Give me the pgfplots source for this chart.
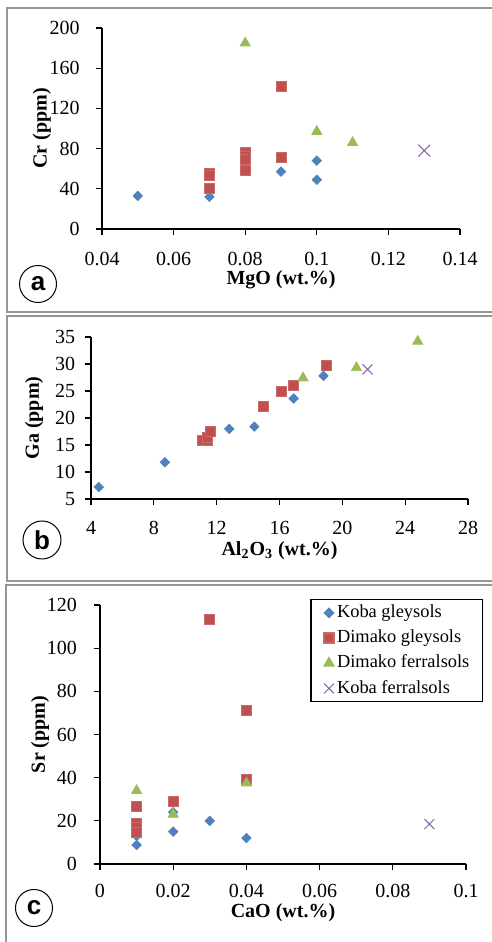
\documentclass[border=0pt]{standalone}
\usepackage{pgfplots}
\pgfplotsset{compat=1.18}
\usepackage{fontspec}
\setmainfont{Liberation Serif}
\newfontfamily\lblfont{Liberation Sans}
\definecolor{kg}{HTML}{4F81BD}
\definecolor{dg}{HTML}{C0504D}
\definecolor{df}{HTML}{9BBB59}
\definecolor{kf}{HTML}{8064A2}
\definecolor{frame}{RGB}{150,150,150}
\pgfplotsset{
  base/.style={
    scale only axis, enlargelimits=false, clip=false,
    axis lines=left, axis line style={-, black, line width=0.6pt},
    tick style={black, line width=0.6pt}, tick align=outside, tick pos=left,
    major tick length=3pt,
    /pgf/number format/assume math mode=true,
    tick label style={font=\fontsize{10}{12}\selectfont},
    label style={font=\fontsize{10}{12}\selectfont\bfseries},
    scaled ticks=false,
  },
  kgs/.style={only marks, mark=square*, mark size=1.65pt, mark options={rotate=45, fill=kg, draw=kg}},
  dgs/.style={only marks, mark=square*, mark size=2.5pt, mark options={fill=dg, draw=dg!85!white}},
  dfs/.style={only marks, mark=triangle*, mark size=2.9pt, mark options={fill=df, draw=df}},
  kfs/.style={only marks, mark=x, mark size=4.2pt, mark options={draw=kf, line width=0.5pt}},
}
\begin{document}
\begin{tikzpicture}
\useasboundingbox (0,0) rectangle (246pt,471pt);
% panel frames
\draw[frame, line width=0.8pt] (250pt,467pt) -- (3.5pt,467pt) -- (3.5pt,315pt) -- (250pt,315pt);
\draw[frame, line width=0.8pt] (250pt,313pt) -- (3.5pt,313pt) -- (3.5pt,180.5pt) -- (250pt,180.5pt);
\draw[frame, line width=0.8pt] (250pt,178.5pt) -- (3pt,178.5pt) -- (3pt,-5pt);
% panel letters
\node[draw, circle, minimum size=18.5pt, inner sep=0pt, line width=0.5pt, font=\lblfont\bfseries\fontsize{13}{14}\selectfont] at (19pt,329pt) {a};
\node[draw, circle, minimum size=19pt, inner sep=0pt, line width=0.5pt, font=\lblfont\bfseries\fontsize{13}{14}\selectfont] at (21pt,201pt) {b};
\node[draw, circle, minimum size=18.5pt, inner sep=0pt, line width=0.5pt, font=\lblfont\bfseries\fontsize{13}{14}\selectfont] at (17pt,17pt) {c};

% ---------- (a) ----------
\begin{axis}[base, at={(51pt,356.5pt)}, anchor=south west,
  width=179pt, height=100.5pt,
  xmin=0.04, xmax=0.14, ymin=0, ymax=200,
  xtick={0.04,0.06,0.08,0.1,0.12,0.14},
  xticklabels={0.04,0.06,0.08,0.1,0.12,0.14},
  ytick={0,40,80,120,160,200},
  xticklabel style={yshift=-4.9pt}, yticklabel style={xshift=-4.6pt},
  xlabel={MgO (wt.\%)}, ylabel={Cr (ppm)},
  xlabel style={at={(axis description cs:0.5,-0.254)}, anchor=center},
  ylabel style={at={(axis description cs:-0.168,0.5)}, anchor=center, rotate=0},
]
\addplot[kgs] coordinates {(0.05,33) (0.07,32) (0.09,57) (0.10,68) (0.10,49)};
\addplot[dgs] coordinates {(0.07,55) (0.07,53) (0.07,40) (0.08,76) (0.08,72) (0.08,69) (0.08,58) (0.09,142) (0.09,71)};
\addplot[dfs] coordinates {(0.08,185) (0.10,97) (0.11,86)};
\addplot[kfs] coordinates {(0.13,78)};
\end{axis}

% ---------- (b) ----------
\begin{axis}[base, at={(45.5pt,221.5pt)}, anchor=south west,
  width=188.5pt, height=81pt,
  xmin=4, xmax=28, ymin=5, ymax=35,
  xtick={4,8,12,16,20,24,28},
  ytick={5,10,15,20,25,30,35},
  xticklabel style={yshift=-4.6pt}, yticklabel style={xshift=-1.4pt},
  xlabel={Al\textsubscript{2}O\textsubscript{3} (wt.\%)}, ylabel={Ga (ppm)},
  xlabel style={at={(axis description cs:0.5,-0.346)}, anchor=base, inner sep=0pt},
  ylabel style={at={(axis description cs:-0.151,0.5)}, anchor=center, rotate=0},
]
\addplot[kgs] coordinates {(4.5,7.2) (8.7,11.8) (12.8,18.0) (14.4,18.4) (16.9,23.6) (18.8,27.8)};
\addplot[dgs] coordinates {(11.1,15.9) (11.4,15.9) (11.4,16.4) (11.6,17.5) (15.0,22.2) (16.1,25.0) (16.9,26.0) (19.0,29.8)};
\addplot[dfs] coordinates {(17.5,27.4) (20.9,29.3) (24.8,34.2)};
\addplot[kfs, mark size=3.5pt] coordinates {(21.6,29.0)};
\end{axis}

% ---------- (c) ----------
\begin{axis}[base, at={(50pt,39pt)}, anchor=south west,
  width=183pt, height=129.5pt,
  xmin=0, xmax=0.1, ymin=0, ymax=120,
  xtick={0,0.02,0.04,0.06,0.08,0.1},
  xticklabels={0,0.02,0.04,0.06,0.08,0.1},
  ytick={0,20,40,60,80,100,120},
  xticklabel style={yshift=-3.8pt}, yticklabel style={xshift=-5pt},
  xlabel={CaO (wt.\%)}, ylabel={Sr (ppm)},
  xlabel style={at={(axis description cs:0.5,-0.189)}, anchor=center},
  ylabel style={at={(axis description cs:-0.164,0.5)}, anchor=center, rotate=0},
  legend style={at={(axis description cs:1.0464,1.023)}, anchor=north east,
    draw=black, line width=0.6pt, fill=white, inner xsep=5pt, inner ysep=0.3pt,
    font=\fontsize{9.2}{10}\selectfont, row sep=0pt,
    nodes={inner ysep=2.0pt, text height=6.6pt, text depth=2pt, inner xsep=1.5pt}},
  legend cell align=left,
  legend image code/.code={\path[draw=none, fill=none] (-4pt,0pt) -- (0pt,0pt); \draw[#1, mark repeat=1] plot coordinates {(0pt,0pt)};},
]
\addplot[kgs] coordinates {(0.01,8.8) (0.01,13) (0.02,24) (0.02,15) (0.03,20) (0.04,12)};
\addlegendentry{Koba gleysols}
\addplot[dgs] coordinates {(0.01,26.5) (0.01,19) (0.01,17) (0.01,14.5) (0.02,29) (0.03,113.5) (0.04,71) (0.04,39)};
\addlegendentry{Dimako gleysols}
\addplot[dfs] coordinates {(0.01,34) (0.02,23) (0.04,37.5)};
\addlegendentry{Dimako ferralsols}
\addplot[kfs, mark size=3.5pt] coordinates {(0.09,18.5)};
\addlegendentry{Koba ferralsols}
\end{axis}
\end{tikzpicture}
\end{document}
